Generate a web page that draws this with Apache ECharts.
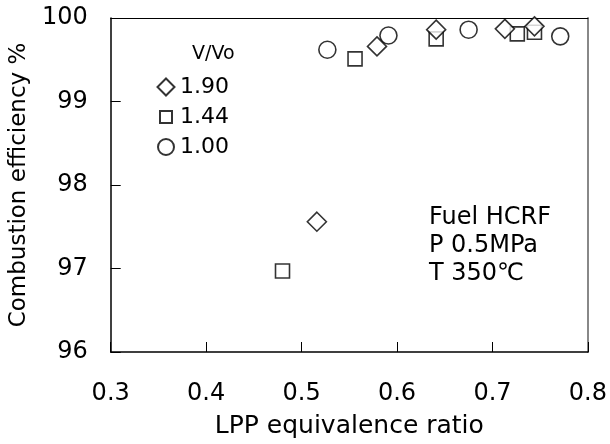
<!DOCTYPE html>
<html>
<head>
<meta charset="utf-8">
<script src="https://cdn.jsdelivr.net/npm/echarts@6/dist/echarts.min.js"></script>
<style>html,body{margin:0;padding:0;background:#fff}#c{width:610px;height:444px}</style>
</head>
<body>
<div id="c"></div>
<script>
const seriesNames = ['1.90', '1.44', '1.00'];
const d190 = [[0.516, 97.56], [0.579, 99.66], [0.641, 99.86], [0.713, 99.87], [0.744, 99.90]];
const d144 = [[0.480, 96.97], [0.556, 99.51], [0.641, 99.75], [0.726, 99.81], [0.744, 99.83]];
const d100 = [[0.527, 99.62], [0.591, 99.79], [0.675, 99.86], [0.771, 99.78]];
const xTicks = [0.3, 0.4, 0.5, 0.6, 0.7, 0.8];
const yTicks = [96, 97, 98, 99, 100];
const notes = ['Fuel HCRF', 'P 0.5MPa', 'T 350\u2103'];

const FONT = '"DejaVu Sans", sans-serif';
const chart = echarts.init(document.getElementById('c'));
const mk = {color: '#fff', borderColor: '#000', borderWidth: 1.6};
function leg(name, w, h, rowCenter, textLeft) {
  const iconLeft = 160 - w / 2;
  const pad = Math.max(0, textLeft - (iconLeft + w) - 12);
  return {
    orient: 'vertical', left: iconLeft, top: rowCenter - 16, itemWidth: w, itemHeight: h,
    data: [name], selectedMode: false,
    formatter: n => '{t|' + n + '}',
    textStyle: {color: '#000', fontFamily: FONT, fontSize: 22,
      rich: {t: {fontSize: 22, fontFamily: FONT, color: '#000', padding: [0, 0, 0, pad]}}}
  };
}
chart.setOption({
  animation: false,
  textStyle: {fontFamily: FONT},
  grid: {left: 106, top: 18, right: 20, bottom: 92},
  legend: [leg(seriesNames[0], 17, 17, 87, 181), leg(seriesNames[1], 12, 12, 117, 181), leg(seriesNames[2], 16, 16, 147, 181)],
  xAxis: [{
    type: 'value', min: xTicks[0], max: xTicks[xTicks.length - 1], interval: 0.1,
    name: 'LPP equivalence ratio', nameLocation: 'middle', nameGap: 62,
    nameTextStyle: {fontSize: 25, color: '#000'},
    axisLine: {lineStyle: {color: '#000', width: 1.5}},
    axisTick: {inside: true, length: 10, lineStyle: {color: '#000'}},
    axisLabel: {fontSize: 24, color: '#000', margin: 30, formatter: v => v.toFixed(1)},
    splitLine: {show: false}
  }, {
    type: 'value', position: 'top', min: 0.3, max: 0.8,
    axisLine: {show: true, lineStyle: {color: '#000', width: 1}},
    axisTick: {show: false}, axisLabel: {show: false}, splitLine: {show: false}
  }],
  yAxis: [{
    type: 'value', min: yTicks[0], max: yTicks[yTicks.length - 1], interval: 1,
    name: 'Combustion efficiency %', nameLocation: 'middle', nameGap: 65,
    nameTextStyle: {fontSize: 23, color: '#000'},
    axisLine: {show: true, lineStyle: {color: '#000', width: 1.5}},
    axisTick: {show: true, inside: true, length: 10, lineStyle: {color: '#000'}},
    axisLabel: {fontSize: 24, color: '#000', margin: 23},
    splitLine: {show: false}
  }, {
    type: 'value', position: 'right', min: 96, max: 100,
    axisLine: {show: true, lineStyle: {color: '#888', width: 2}},
    axisTick: {show: false}, axisLabel: {show: false}, splitLine: {show: false}
  }],
  graphic: [
    {type: 'text', left: 192, top: 45, style: {text: 'V/Vo', font: '19px ' + FONT, fill: '#000'}},
    {type: 'text', left: 429, top: 204, style: {text: notes.join('\n'), font: '24px ' + FONT, lineHeight: 28, fill: '#000'}}
  ],
  series: [
    {name: seriesNames[0], type: 'scatter', symbol: 'diamond', symbolSize: 19, data: d190, itemStyle: mk, z: 3},
    {name: seriesNames[1], type: 'scatter', symbol: 'rect', symbolSize: 14, data: d144, itemStyle: mk, z: 2},
    {name: seriesNames[2], type: 'scatter', symbol: 'circle', symbolSize: 17, data: d100, itemStyle: mk, z: 1}
  ]
});
</script>
</body>
</html>
